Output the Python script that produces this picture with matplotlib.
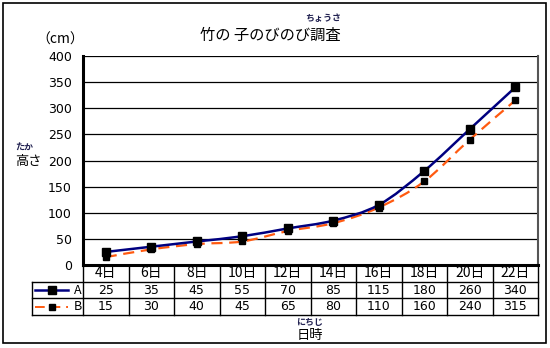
import matplotlib
matplotlib.use("Agg")
import matplotlib.pyplot as plt
from matplotlib.path import Path
from matplotlib.patches import PathPatch, Rectangle
from matplotlib.lines import Line2D
import numpy as np

plt.rcParams['font.family'] = ['Noto Sans CJK JP', 'DejaVu Sans']

# survey data
days = ["4日", "6日", "8日", "10日", "12日", "14日", "16日", "18日", "20日", "22日"]
series_names = ["A", "B"]
height_a = [25, 35, 45, 55, 70, 85, 115, 180, 260, 340]
height_b = [15, 30, 40, 45, 65, 80, 110, 160, 240, 315]
y_ticks = [0, 50, 100, 150, 200, 250, 300, 350, 400]

W, H = 550, 348
fig = plt.figure(figsize=(W / 100, H / 100), dpi=100)
fig.patch.set_facecolor("white")


def fx(px):
    return px / W


def fy(py):
    return 1 - py / H


# plot area in pixels
L, R, T, B = 83, 538, 56, 265
ax = fig.add_axes([fx(L), fy(B), fx(R - L), (B - T) / H])
ax.set_xlim(-0.5, len(days) - 0.5)
ax.set_ylim(0, 400)
ax.set_yticks(y_ticks)
ax.set_xticks([])
ax.tick_params(axis='y', length=0, pad=8, labelsize=9)
for lbl in ax.get_yticklabels():
    lbl.set_fontfamily(['DejaVu Sans'])
for t in y_ticks[1:]:
    ax.axhline(t, color='black', lw=0.9, zorder=1)
ax.spines['left'].set_linewidth(2.2)
ax.spines['bottom'].set_linewidth(2.2)
ax.spines['top'].set_visible(False)
ax.spines['right'].set_color('#555555')
ax.spines['right'].set_linewidth(1.5)


def smooth_path(xs, ys):
    # Catmull-Rom style bezier through the points
    pts = np.column_stack([xs, ys]).astype(float)
    n = len(pts)
    verts = [pts[0]]
    codes = [Path.MOVETO]
    for i in range(n - 1):
        p0 = pts[i - 1] if i > 0 else pts[i]
        p1 = pts[i]
        p2 = pts[i + 1]
        p3 = pts[i + 2] if i + 2 < n else pts[i + 1]
        c1 = p1 + (p2 - p0) / 6
        c2 = p2 - (p3 - p1) / 6
        verts += [c1, c2, p2]
        codes += [Path.CURVE4] * 3
    return Path(verts, codes)


x = np.arange(len(days))
ax.add_patch(PathPatch(smooth_path(x, height_a), fill=False, edgecolor='#000080',
                       lw=1.8, zorder=3))
ax.add_patch(PathPatch(smooth_path(x, height_b), fill=False, edgecolor='#FF5A10',
                       lw=1.6, ls=(0, (5, 3)), zorder=2))
ax.plot(x, height_a, ls='none', marker='s', ms=6, color='black', zorder=4)
ax.plot(x, height_b, ls='none', marker='s', ms=4.5, color='black', zorder=4)

# data table under the chart
col_w = (R - L) / len(days)
rows = [B, 282, 298, 315]
legend_left = 32
lk = dict(color='black', lw=1.0, transform=fig.transFigure)
for yy in rows[1:]:
    fig.add_artist(Line2D([fx(legend_left), fx(R)], [fy(yy), fy(yy)], **lk))
fig.add_artist(Line2D([fx(legend_left), fx(legend_left)], [fy(rows[1]), fy(rows[3])], **lk))
for k in range(len(days) + 1):
    xx = L + k * col_w
    fig.add_artist(Line2D([fx(xx), fx(xx)], [fy(B), fy(rows[3])], **lk))

for i, d in enumerate(days):
    cx = L + (i + 0.5) * col_w
    fig.text(fx(cx), fy((rows[0] + rows[1]) / 2), d, ha='center', va='center', fontsize=10)
    fig.text(fx(cx), fy((rows[1] + rows[2]) / 2), str(height_a[i]), ha='center',
             va='center', fontsize=9, family=['DejaVu Sans'])
    fig.text(fx(cx), fy((rows[2] + rows[3]) / 2), str(height_b[i]), ha='center',
             va='center', fontsize=9, family=['DejaVu Sans'])

# legend keys in the table
ya = fy((rows[1] + rows[2]) / 2)
yb = fy((rows[2] + rows[3]) / 2)
fig.add_artist(Line2D([fx(35), fx(68)], [ya, ya], color='#000080', lw=1.8,
                      transform=fig.transFigure))
fig.add_artist(Line2D([fx(51.5)], [ya], marker='s', ms=6, color='black', ls='none',
                      transform=fig.transFigure))
fig.add_artist(Line2D([fx(35), fx(68)], [yb, yb], color='#FF5A10', lw=1.4,
                      ls=(0, (5, 3)), transform=fig.transFigure))
fig.add_artist(Line2D([fx(51.5)], [yb], marker='s', ms=4.5, color='black', ls='none',
                      transform=fig.transFigure))
fig.text(fx(74), ya, series_names[0], ha='left', va='center', fontsize=9)
fig.text(fx(74), yb, series_names[1], ha='left', va='center', fontsize=9)

# titles and labels
ruby = '#202050'
fig.text(fx(270), fy(35), "竹の 子のびのび調査", ha='center', va='center', fontsize=11)
fig.text(fx(323), fy(19), "ちょうさ", ha='center', va='center', fontsize=6.5,
         color=ruby, fontweight='bold')
fig.text(fx(60), fy(40), "（cm）", ha='center', va='center', fontsize=10)
fig.text(fx(24), fy(147), "たか", ha='center', va='center', fontsize=6.5,
         color=ruby, fontweight='bold')
fig.text(fx(28), fy(161), "高さ", ha='center', va='center', fontsize=9.5)
fig.text(fx(310), fy(323), "にちじ", ha='center', va='center', fontsize=6.5,
         color=ruby, fontweight='bold')
fig.text(fx(310), fy(336), "日時", ha='center', va='center', fontsize=9.5)

# outer border
fig.add_artist(Rectangle((fx(3), fy(343)), fx(543), (343 - 3) / H, fill=False,
                         edgecolor='black', lw=1.2, transform=fig.transFigure))

fig.savefig("out.png", dpi=100, facecolor='white')
